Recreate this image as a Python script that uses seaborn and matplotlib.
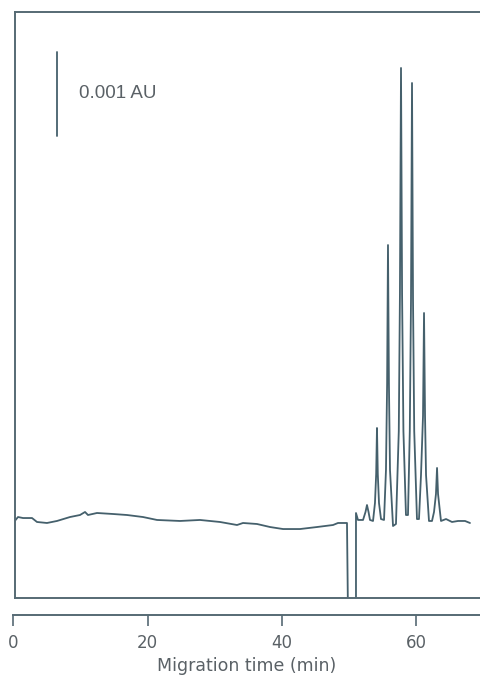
import numpy as np
import matplotlib
matplotlib.use("Agg")
import matplotlib.pyplot as plt
import seaborn as sns
import pandas as pd

# Electropherogram trace: migration time (min) and absorbance (mAU)
time_min = [0.10, 0.70, 1.45, 2.79, 3.53, 5.02, 6.51, 8.45, 9.94, 10.69, 11.13,
            12.47, 14.86, 16.95, 19.33, 21.42, 24.84, 27.82, 30.80, 33.34, 34.23,
            36.32, 38.26, 40.20, 42.73, 45.26, 47.65, 48.39, 49.73, 49.88, 51.07,
            51.07, 51.37, 52.12, 52.49, 52.71, 52.94, 53.16, 53.61,
            53.90, 54.08, 54.20, 54.32, 54.50, 54.80,
            55.25, 55.54, 55.71, 55.84, 55.98, 56.14, 56.59,
            57.03, 57.45, 57.62, 57.78, 57.94, 58.14, 58.52,
            58.82, 59.09, 59.27, 59.42, 59.57, 59.75, 60.16,
            60.46, 60.76, 61.06, 61.21, 61.36, 61.51, 61.95,
            62.40, 62.70, 62.99, 63.15, 63.30, 63.59, 63.74,
            64.49, 65.38, 66.28, 67.32, 68.06]
absorb_mau = [0.905, 0.964, 0.952, 0.952, 0.905, 0.893, 0.917, 0.964, 0.988, 1.024, 0.988,
              1.012, 1.000, 0.988, 0.964, 0.929, 0.917, 0.929, 0.905, 0.869, 0.893,
              0.881, 0.845, 0.821, 0.821, 0.845, 0.869, 0.893, 0.893, -0.2, -0.2,
              1.012, 0.929, 0.929, 1.024, 1.107, 1.024, 0.929, 0.917,
              1.131, 1.476, 2.024, 1.476, 1.131, 0.940,
              0.929, 1.524, 2.548, 4.202, 2.548, 1.524, 0.857,
              0.881, 1.988, 3.619, 6.310, 3.619, 1.988, 0.988,
              0.988, 1.988, 3.548, 6.131, 3.548, 1.988, 0.940,
              0.940, 1.464, 2.167, 3.393, 2.167, 1.464, 0.917,
              0.917, 1.024, 1.238, 1.548, 1.238, 1.024, 0.917,
              0.940, 0.905, 0.917, 0.917, 0.893]

x_ticks = [0, 20, 40, 60]
x_label = "Migration time (min)"
scale_bar_mau = [5.5, 6.5]
scale_label = "0.001 AU"

trace = pd.DataFrame({"time": time_min, "mau": absorb_mau})

W, H = 481, 678
line_col = "#45606c"
frame_col = "#566a74"
text_col = "#5a6166"

sns.set_theme(style="white")
plt.rcParams["font.family"] = ["DejaVu Sans"]

fig = plt.figure(figsize=(W / 100, H / 100), dpi=100)

px_per_min = 6.71
x0_px = 13.3
xmax = (W - x0_px) / px_per_min
px_per_mau = 84.0


def fx(px):
    return px / W


def fy(py):
    return 1 - py / H


# Main plotting frame (left, top and bottom edges drawn)
frame_left_px, frame_top_px, frame_bot_px = 15.0, 12.0, 598.0
ax = fig.add_axes([fx(frame_left_px), fy(frame_bot_px),
                   1 - fx(frame_left_px), (frame_bot_px - frame_top_px) / H])
sns.lineplot(data=trace, x="time", y="mau", sort=False, estimator=None,
             color=line_col, linewidth=1.3, ax=ax)
ax.set_xlim((frame_left_px - x0_px) / px_per_min, xmax)
ax.set_ylim(0, (frame_bot_px - frame_top_px) / px_per_mau)
ax.set_xticks([])
ax.set_yticks([])
ax.set_xlabel("")
ax.set_ylabel("")
for side in ["left", "top", "bottom"]:
    ax.spines[side].set_visible(True)
    ax.spines[side].set_color(frame_col)
    ax.spines[side].set_linewidth(1.4)
ax.spines["right"].set_visible(False)

# Absorbance scale bar
bar_t = (57 - x0_px) / px_per_min
ax.plot([bar_t, bar_t], scale_bar_mau, color=line_col, linewidth=1.3)
ax.text((79 - x0_px) / px_per_min, np.mean(scale_bar_mau), scale_label,
        ha="left", va="center", fontsize=13.5, color=text_col,
        family=["Liberation Sans", "DejaVu Sans"])

# Separate time axis below the frame
axis_y_px = 615.0
pad_min = 0.1
axx = fig.add_axes([fx(x0_px - pad_min * px_per_min), fy(axis_y_px),
                    1 - fx(x0_px - pad_min * px_per_min), 0.001])
axx.set_xlim(-pad_min, xmax)
axx.set_ylim(0, 1)
axx.patch.set_alpha(0)
for side in ["left", "top", "right"]:
    axx.spines[side].set_visible(False)
axx.spines["bottom"].set_visible(True)
axx.spines["bottom"].set_color(frame_col)
axx.spines["bottom"].set_linewidth(1.4)
axx.set_yticks([])
axx.set_xticks(x_ticks)
axx.set_xticklabels([str(t) for t in x_ticks])
axx.tick_params(axis="x", direction="out", length=8, width=1.2, color=frame_col,
                bottom=True, pad=6, labelsize=12, labelcolor=text_col)
axx.set_xlabel(x_label, fontsize=12.5, color=text_col, labelpad=3)

fig.savefig("out.png", dpi=100)
